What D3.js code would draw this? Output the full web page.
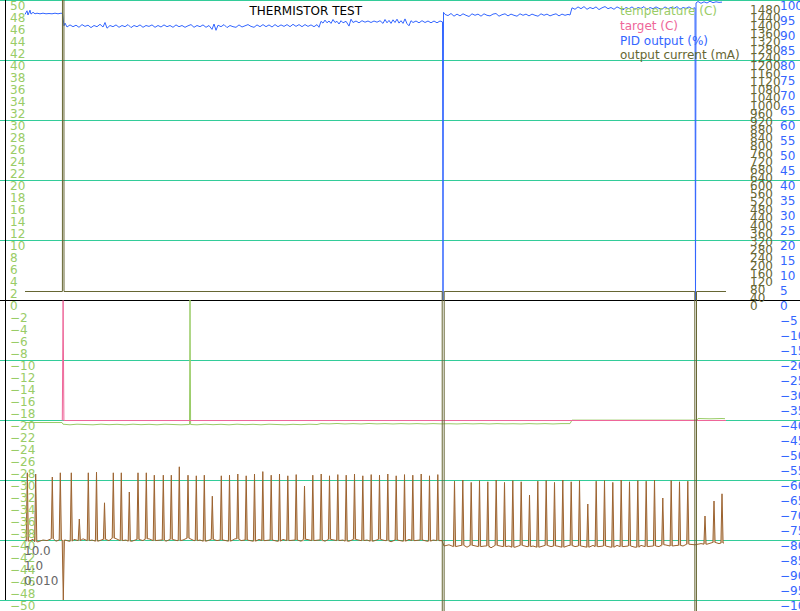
<!DOCTYPE html>
<html><head><meta charset="utf-8">
<script src="https://cdn.jsdelivr.net/npm/d3@7"></script>
<style>
body{margin:0;background:#fff}
svg{display:block}
text{font-family:"DejaVu Sans",sans-serif;font-size:12px}
</style>
</head><body>
<svg id="c" width="800" height="611"></svg>
<script>
// ---------------- DATA ----------------
const chartTitle = "THERMISTOR TEST";
const legendLabels = ["temperature (C)", "target (C)", "PID output (%)", "output current (mA)"];
const pidParams = ["10.0", "1.0", "0.010"];
const tempTickValues = d3.range(50, -51, -2);
const currentTickValues = d3.range(0, 1481, 40);
const pidTickValues = d3.range(100, -101, -5);
const gridValues = d3.range(100, -101, -20);

// time (s) , PID output (%)
const pidOutput = [
[0,95.2],[2,96.4],[3,95.0],[5,96.6],[6,95.3],[8,95.9],[10,95.4],[12,95.6],[15,95.4],[18,95.6],[21,95.4],[24,95.5],[27,95.4],[30,95.6],[33,95.4],[36,95.6],[37.5,95.5],
[39,91.4],[40,92.3],[42,91.0],[45,91.7],[48,91.1],[51,91.6],[54,90.9],[57,91.8],[60,91.2],[63,91.6],[66,90.8],[69,91.5],[72,91.1],[75,91.9],[78,91.0],[80,92.5],[82,90.6],[85,91.5],[88,91.1],[91,91.7],[94,90.9],[97,91.5],[100,91.1],[103,91.8],[106,90.8],[109,91.5],[112,91.1],[115,91.7],[118,90.9],[121,91.5],[124,91.2],[127,91.7],[130,90.9],[133,91.5],[136,91.0],[139,91.7],[142,91.1],[145,91.5],[148,90.9],[151,91.7],[154,91.1],[157,91.5],[160,90.9],[163,91.4],[166,91.8],[169,90.9],[172,91.5],[175,91.1],[178,91.7],[181,90.9],[184,91.5],[187,90.2],[189,92.0],[191,89.9],[193,91.6],[196,91.1],[199,91.8],[202,90.8],[205,91.5],[208,91.1],[211,90.9],[214,91.7],[217,91.0],[220,91.4],[223,91.8],[226,91.2],[229,90.9],[232,91.7],[235,91.1],[238,91.8],[241,91.1],[244,91.7],[247,91.0],[250,91.8],[253,91.1],[256,91.7],[259,91.2],[262,91.8],[265,91.1],[268,91.9],[271,91.2],[274,91.8],[277,91.1],[280,91.8],[283,91.2],[286,91.7],[289,91.1],[292,91.8],[294,90.9],
[296,92.9],[298,92.3],[300,93.3],[302,92.4],[304,93.0],[306,92.2],[308,93.5],[310,92.5],[312,92.9],[314,92.0],[316,93.1],[318,92.4],[321,92.9],[324,91.3],[326,93.6],[328,92.5],[331,93.0],[334,92.4],[337,93.1],[340,92.6],[343,93.0],[346,92.5],[349,93.0],[352,92.6],[355,93.1],[358,92.2],[360,93.5],[362,92.4],[364,93.2],[366,92.2],[368,93.4],[370,92.5],[372,93.6],[374,92.3],[376,93.1],[378,92.2],[380,93.7],[382,92.1],[384,91.4],[386,93.1],[388,92.5],[391,93.0],[394,92.4],[397,93.1],[400,92.5],[403,93.0],[406,92.4],[409,93.0],[412,92.4],[415,93.0],[417.5,92.7],
[418,0],[418.5,95.9],[420,95.2],[423,94.8],[426,95.5],[429,94.6],[432,95.3],[435,94.7],[438,95.4],[441,94.9],[444,94.5],[447,95.4],[450,94.9],[453,95.3],[456,94.6],[459,95.4],[462,94.9],[465,94.7],[468,95.3],[471,95.5],[474,94.6],[477,95.1],[480,95.4],[483,94.7],[486,95.3],[489,94.9],[492,94.6],[495,95.4],[498,94.9],[501,95.3],[504,94.7],[507,95.3],[510,94.9],[513,94.6],[516,95.4],[519,94.9],[522,95.3],[525,94.7],[528,95.1],[531,95.4],[534,94.7],[537,95.3],[540,94.9],[543,95.2],[545,95.0],
[547,97.4],[550,96.9],[553,97.7],[556,97.1],[559,97.8],[562,96.9],[565,97.5],[568,97.1],[571,97.7],[574,96.8],[577,97.4],[580,97.8],[583,97.1],[586,97.5],[589,96.9],[592,97.7],[595,97.2],[598,96.7],[601,97.5],[604,97.1],[607,97.7],[610,96.9],[613,97.5],[616,97.2],[619,97.8],[622,96.8],[625,97.5],[628,97.1],[631,97.7],[634,97.2],[637,96.9],[640,97.7],[643,97.1],[646,97.5],[649,97.2],[652,97.8],[655,96.9],[658,97.5],[661,97.2],[664,97.7],[667,97.1],[670,97.4],
[670.5,0],[671,99.0],[673,99.5],[676,98.9],[679,99.4],[682,99.0],[685,99.6],[688,99.1],[691,99.4],[694,99.2],[697,99.3]
];

// time (s), output current (mA)
const outputCurrent = [
[0,42.5],[37.4,42.5],[38.2,20000],[39.0,42.5],[417.2,42.5],[418.2,-20000],[419.2,42.5],[669.8,42.5],[670.7,-20000],[671.5,42.5],[701,42.5]
];

// time (s), temperature (C)
const temperature = [
[0,-20.42],[10,-20.42],[20,-20.42],[30,-20.42],[37,-20.42],[38,-20.7],[45,-20.8],[52,-20.7],[60,-20.75],[68,-20.8],[76,-20.7],[84,-20.78],[92,-20.72],[100,-20.8],[108,-20.7],[116,-20.78],[124,-20.72],[132,-20.8],[140,-20.7],[148,-20.75],[156,-20.8],[164.5,-20.75],[165,0],[165.6,-20.75],[172,-20.8],[180,-20.7],[188,-20.78],[196,-20.72],[204,-20.8],[212,-20.7],[220,-20.78],[228,-20.72],[236,-20.8],[244,-20.7],[252,-20.75],[260,-20.8],[268,-20.72],[276,-20.78],[284,-20.7],[292,-20.75],[296,-20.6],[304,-20.65],[312,-20.58],[320,-20.66],[328,-20.6],[336,-20.66],[344,-20.58],[352,-20.65],[360,-20.6],[368,-20.66],[376,-20.6],[384,-20.65],[392,-20.6],[400,-20.66],[408,-20.6],[416,-20.65],[424,-20.62],[432,-20.66],[440,-20.6],[448,-20.65],[456,-20.6],[464,-20.66],[472,-20.6],[480,-20.65],[488,-20.62],[496,-20.66],[504,-20.6],[512,-20.65],[520,-20.6],[528,-20.66],[536,-20.6],[545,-20.6],[547,-20.02],[600,-20.02],[650,-20.02],[672,-20.02],[673,-19.75],[685,-19.8],[697,-19.75],[700,-19.78]
];

// time (s), target (C)
const target = [[37.3,-20],[38.1,0],[38.9,-20],[701,-20]];

// unlabelled brown trace (left scale): baseline samples
const traceBase = [
[0,-40.05],[4,-40.2],[8,-39.9],[13,-40.3],[18,-40.0],[22,-40.1],[26,-39.8],[31,-40.2],[36,-40.0],[40,-40.0],[44,-40.2],[49,-39.9],[53,-40.1],[58,-39.8],[62,-40.1],[67,-40.0],[73,-40.2],[78,-39.9],[84,-40.1],[90,-39.7],[95,-40.1],[101,-40.0],[107,-40.2],[112,-39.9],[118,-40.1],[124,-39.8],[130,-40.1],[136,-40.0],[141,-40.2],[147,-39.9],[152,-40.1],[158,-40.0],[164,-39.7],[169,-40.1],[175,-40.0],[181,-40.2],[186,-39.9],[192,-40.1],[198,-40.0],[204,-40.2],[210,-39.8],[216,-40.1],[222,-40.0],[228,-40.2],[234,-39.9],[240,-40.1],[246,-40.0],[252,-40.2],[258,-39.9],[264,-40.1],[270,-40.0],[276,-40.2],[282,-39.9],[288,-40.1],[294,-40.0],[300,-40.2],[306,-39.9],[312,-40.1],[318,-40.0],[324,-40.2],[330,-39.9],[336,-40.1],[342,-40.0],[348,-40.2],[354,-39.9],[360,-40.1],[366,-40.3],[372,-40.0],[378,-40.2],[384,-39.9],[390,-40.1],[396,-40.0],[402,-40.2],[408,-40.0],[414,-40.1],[417,-40.1],
[419,-41.0],[424,-40.8],[430,-41.1],[436,-40.9],[442,-41.2],[448,-40.9],[454,-41.1],[460,-41.0],[466,-41.3],[472,-40.9],[478,-41.1],[484,-41.0],[490,-41.2],[496,-40.9],[502,-41.1],[508,-41.0],[514,-41.2],[520,-40.9],[526,-41.1],[532,-41.0],[538,-41.2],[544,-40.9],[550,-41.1],[556,-41.0],[562,-41.2],[568,-40.9],[574,-41.1],[580,-41.0],[586,-41.2],[592,-40.9],[598,-41.1],[604,-41.0],[610,-41.2],[616,-40.9],[622,-41.1],[628,-41.0],[634,-41.1],[640,-40.8],[646,-41.0],[652,-40.9],[658,-41.0],[664,-40.7],[670,-40.8],[676,-40.6],[682,-40.7],[688,-40.4],[694,-40.6],[699,-40.5]
];
// spikes of the brown trace: [time, peak]
const traceSpikes = [
[2.3,-28.8],[10.7,-29.0],[27.3,-29.5],[35.3,-28.8],[38.3,-50],[46.3,-28.8],[54.3,-36.5],[63.3,-28.8],[71.5,-28.7],[79.5,-33.8],[88.3,-28.8],[96.3,-28.8],[104.3,-32.0],[113,-28.8],[121.3,-28.8],[129.3,-29.2],[138.3,-29.2],[146.3,-29.2],[154.3,-27.8],[163,-29.2],[171.3,-29.3],[179.3,-29.2],[187.3,-32.7],[196.3,-29.3],
[204.5,-29.2],[212.8,-29.0],[221.2,-29.3],[229.5,-29.0],[237.8,-28.6],[246.2,-29.2],[254.5,-29.0],[262.8,-29.3],[271.2,-29.1],[279.5,-31.0],[287.8,-29.2],[296.2,-29.0],[304.5,-29.3],[312.8,-29.1],[321.2,-29.2],[329.5,-29.0],[337.8,-29.3],[346.2,-29.1],[354.5,-29.2],[362.8,-29.0],[371.2,-29.3],[379.5,-29.1],[387.8,-29.2],[396.2,-29.0],[404.5,-29.3],[412.8,-29.1],
[429.5,-30.2],[437.8,-30.0],[446.2,-30.4],[454.5,-30.1],[462.8,-30.3],[471.2,-30.0],[479.5,-30.4],[487.8,-30.1],[496.2,-30.3],[504.5,-32.5],[512.8,-30.2],[521.2,-30.1],[529.5,-30.4],[537.8,-30.0],[546.2,-30.3],[554.5,-30.1],[562.8,-34.0],[571.2,-30.2],[579.5,-30.1],[587.8,-30.4],[596.2,-30.0],[604.5,-30.3],[612.8,-30.1],[621.2,-30.2],[629.5,-30.0],[637.8,-33.0],[646.2,-30.1],[654.5,-30.3],[662.8,-30.2],[680,-36.0],[689,-33.5],[697,-32.3]
];

// ---------------- CHART ----------------
const W = 800, H = 611;
const svg = d3.select("#c");
const x = d3.scaleLinear().domain([0, 700]).range([25, 725]);
const yTemp = d3.scaleLinear().domain([-50, 50]).range([600, 0]);
const yPid = d3.scaleLinear().domain([-100, 100]).range([600, 0]);
const yCur = d3.scaleLinear().domain([0, 1500]).range([300, 0]);

const C = {
  grid: "#33cc99", temp: "#99cc66", target: "#ee6699", pid: "#3366ff",
  cur: "#666633", trace: "#9c6330", params: "#666666"
};

// gridlines
const g = svg.append("g").call(d3.axisRight(yPid).tickValues(gridValues).tickSize(W).tickFormat(""));
g.select(".domain").remove();
g.selectAll(".tick line").attr("stroke", C.grid);

// axis lines
svg.append("line").attr("x1", 5.5).attr("x2", 5.5).attr("y1", yTemp(50)).attr("y2", yTemp(-50)).attr("stroke", "#000");
svg.append("line").attr("x1", 0).attr("x2", W).attr("y1", yTemp(0) + 0.5).attr("y2", yTemp(0) + 0.5).attr("stroke", "#000");

function drawLine(data, yScale, color, dy) {
  svg.append("path").datum(data)
    .attr("fill", "none").attr("stroke", color).attr("stroke-width", 1)
    .attr("stroke-linejoin", "round")
    .attr("transform", `translate(0,${dy || 0})`)
    .attr("d", d3.line().x(d => x(d[0])).y(d => yScale(d[1])));
}

// brown trace built from baseline samples + spikes
function nearestBase(t) {
  let best = traceBase[0];
  for (const b of traceBase) if (Math.abs(b[0] - t) < Math.abs(best[0] - t)) best = b;
  return best[1];
}
const traceData = traceBase.filter(b => !traceSpikes.some(s => Math.abs(s[0] - b[0]) < 1.4));
traceSpikes.forEach(s => {
  const b = nearestBase(s[0]);
  traceData.push([s[0] - 1.1, b], [s[0], s[1]], [s[0] + 1.1, b]);
});
traceData.sort((a, b) => a[0] - b[0]);

// pale fill under the brown spikes (as in the reference rendering)
svg.append("path").datum(traceData)
  .attr("fill", "#d8bfa0").attr("stroke", "none")
  .attr("d", d3.area().x(d => x(d[0])).y0(d => yTemp(nearestBase(d[0]))).y1(d => yTemp(d[1])));
drawLine(traceData, yTemp, C.trace);
drawLine(temperature, yTemp, C.temp);
drawLine(target, yTemp, C.target, 0.5);
drawLine(pidOutput, yPid, C.pid);
drawLine(outputCurrent, yCur, C.cur);

// axes labels
function labelAxis(scale, ticks, xPos, color) {
  const a = svg.append("g").attr("transform", `translate(${xPos},0)`)
    .call(d3.axisRight(scale).tickValues(ticks).tickSize(0).tickPadding(0).tickFormat(d3.format("d")));
  a.select(".domain").remove();
  a.attr("font-family", null).attr("font-size", null);
  a.selectAll("text").attr("fill", color).attr("dy", "0.8em").attr("x", 0);
}
labelAxis(yTemp, tempTickValues, 10, C.temp);
labelAxis(yCur, currentTickValues, 750, C.cur);
labelAxis(yPid, pidTickValues, 780, C.pid);

// title
svg.append("text").attr("x", 249.5).attr("y", 15).attr("fill", "#000").text(chartTitle);

// legend
const legendColors = [C.temp, C.target, C.pid, C.cur];
svg.append("g").selectAll("text").data(legendLabels).join("text")
  .attr("x", 620).attr("y", (d, i) => 15 + i * 14.8)
  .attr("fill", (d, i) => legendColors[i]).text(d => d);

// PID parameters
svg.append("g").selectAll("text").data(pidParams).join("text")
  .attr("x", 24).attr("y", (d, i) => 555 + i * 15)
  .attr("fill", C.params).text(d => d);
</script>
</body></html>
